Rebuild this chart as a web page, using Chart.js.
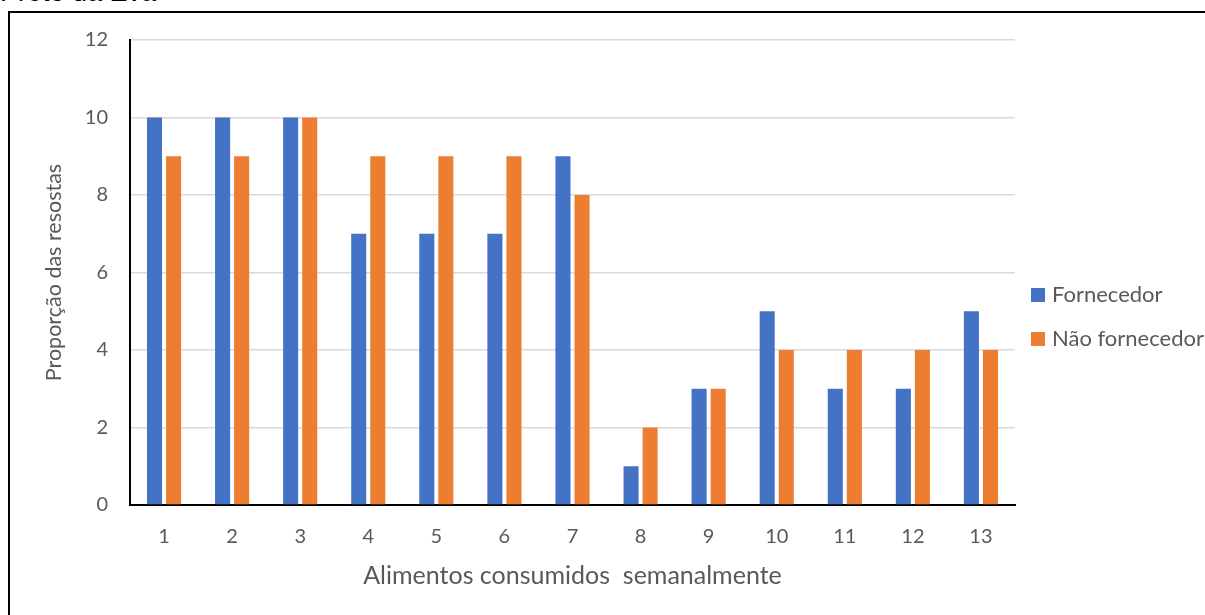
<!DOCTYPE html>
<html>
<head>
<meta charset="utf-8">
<script src="https://cdn.jsdelivr.net/npm/chart.js@4/dist/chart.umd.min.js"></script>
<style>
  html, body { margin: 0; padding: 0; background: #fff; }
  #wrap { position: relative; width: 1205px; height: 615px; overflow: hidden; }
  #frame { position: absolute; left: 8px; top: 11px; right: -10px; bottom: -10px;
           border-left: 2px solid #000; border-top: 2px solid #000; }
  #caption { position: absolute; left: 0; top: -23px; font: 27px "Liberation Sans", Arial, sans-serif; color: #000; white-space: nowrap; }
  canvas { position: absolute; left: 0; top: 0; }
</style>
</head>
<body>
<div id="wrap">
  <div id="caption">Preto da Eva</div>
  <div id="frame"></div>
  <canvas id="c" width="1205" height="615"></canvas>
</div>
<script>
const categories = ['1','2','3','4','5','6','7','8','9','10','11','12','13'];
const fornecedor = [10, 10, 10, 7, 7, 7, 9, 1, 3, 5, 3, 3, 5];
const naoFornecedor = [9, 9, 10, 9, 9, 9, 8, 2, 3, 4, 4, 4, 4];
const seriesNames = ['Fornecedor', 'Não fornecedor'];
const seriesColors = ['#4472C4', '#ED7D31'];

const FONT = 'Lato, "Open Sans", sans-serif';
const GREY = '#595959';

// legend drawn to the right of the plot, stacked vertically
const sideLegend = {
  id: 'sideLegend',
  afterDraw(chart) {
    const ctx = chart.ctx;
    ctx.save();
    ctx.font = '22px ' + FONT;
    ctx.textBaseline = 'middle';
    chart.data.datasets.forEach((ds, i) => {
      const y = 295 + i * 44;
      ctx.fillStyle = ds.backgroundColor;
      ctx.fillRect(1031, y - 7, 14, 14);
      ctx.fillStyle = GREY;
      ctx.fillText(ds.label, 1052, y);
    });
    ctx.restore();
  }
};

new Chart(document.getElementById('c'), {
  type: 'bar',
  data: {
    labels: categories,
    datasets: [
      { label: seriesNames[0], data: fornecedor, backgroundColor: seriesColors[0] },
      { label: seriesNames[1], data: naoFornecedor, backgroundColor: seriesColors[1] }
    ]
  },
  options: {
    responsive: false,
    animation: false,
    devicePixelRatio: 1,
    categoryPercentage: 0.56,
    barPercentage: 0.79,
    layout: { padding: { left: 10, top: 40, right: 190, bottom: 0 } },
    plugins: { legend: { display: false }, tooltip: { enabled: false } },
    scales: {
      x: {
        grid: { display: false, drawTicks: false },
        border: { display: true, color: '#000', width: 2 },
        ticks: { color: GREY, font: { family: FONT, size: 20 }, padding: 20, maxRotation: 0 },
        title: { display: true, text: 'Alimentos consumidos  semanalmente', color: GREY,
                 font: { family: FONT, size: 25 }, padding: { top: 0, bottom: 24 } },
        afterFit(s) { s.height = 110; }
      },
      y: {
        min: 0, max: 12,
        grid: { color: '#D9D9D9', lineWidth: 1.5, drawTicks: false },
        border: { display: true, color: '#000', width: 2 },
        ticks: { stepSize: 2, color: GREY, font: { family: FONT, size: 20 }, padding: 22 },
        title: { display: true, text: 'Proporção das resostas', color: GREY,
                 font: { family: FONT, size: 21.5 }, padding: { top: 31, bottom: 0 } },
        afterFit(s) { s.width = 120; }
      }
    }
  },
  plugins: [sideLegend]
});
</script>
</body>
</html>
